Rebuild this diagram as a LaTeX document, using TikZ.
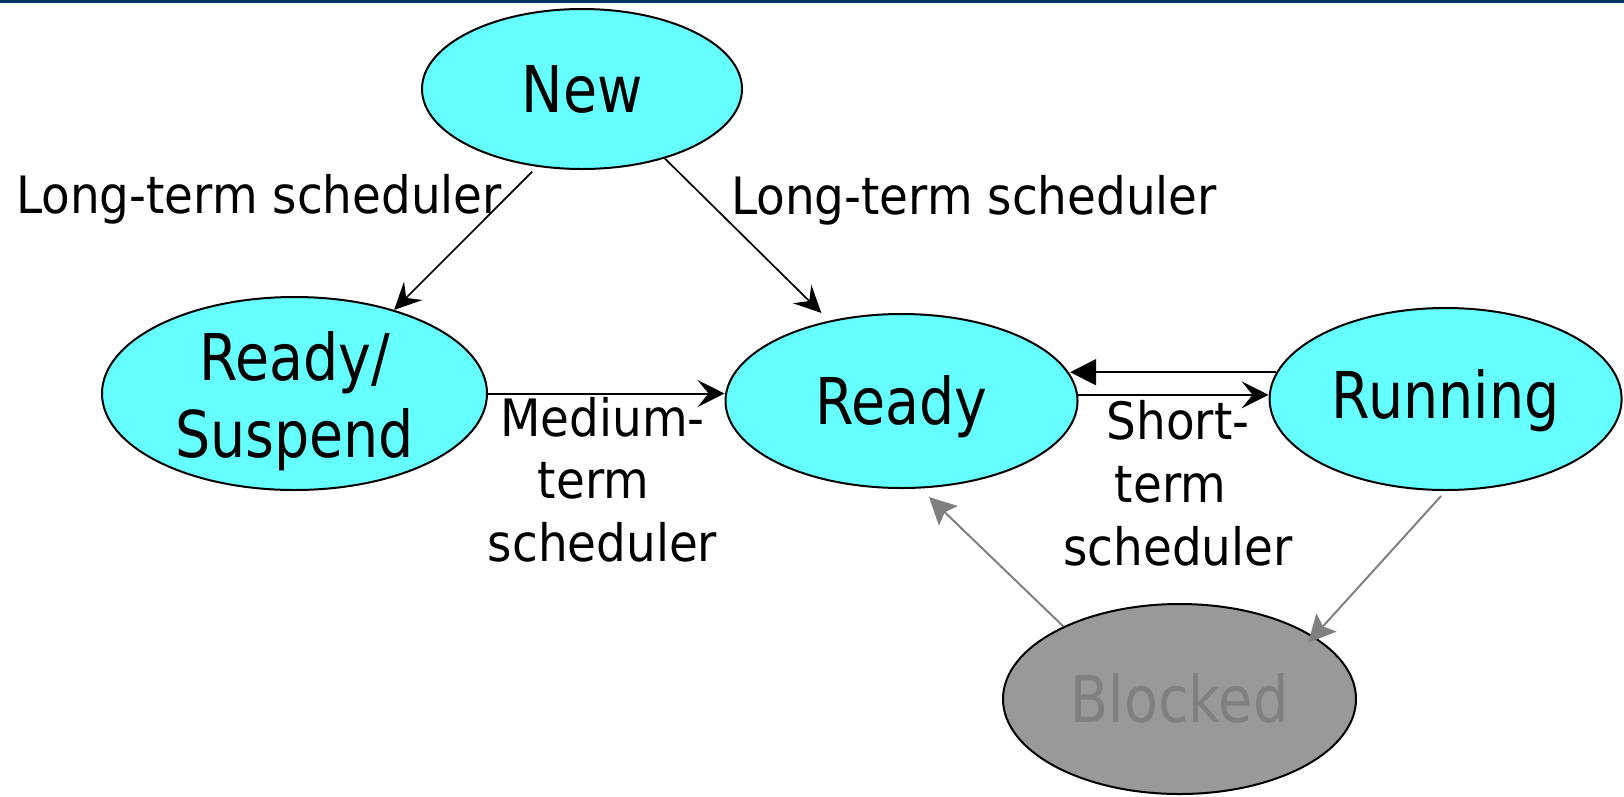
\documentclass[tikz,border=0pt]{standalone}
\usepackage{fontspec}
\setmainfont{DejaVu Sans}[FakeStretch=0.91]
\newfontfamily\statefamily{DejaVu Sans}[FakeStretch=0.86]
\usetikzlibrary{arrows.meta,shapes.geometric}
\definecolor{statecyan}{HTML}{66FFFF}
\definecolor{blockgray}{HTML}{999999}
\definecolor{dimgray}{HTML}{808080}
\definecolor{rulenavy}{HTML}{003366}
\newcommand\statesize{\statefamily\fontsize{64.5}{77}\selectfont}
\newcommand\schedsize{\fontsize{51.5}{62.8}\selectfont}
\begin{document}
\begin{tikzpicture}[x=1pt,y=-1pt,
  state/.style={ellipse, draw=black, line width=2pt, fill=statecyan,
    inner sep=0pt, font=\statesize, text height=47pt, text depth=0pt},
  sched/.style={font=\schedsize, inner sep=0pt, align=center},
  flow/.style={line width=2pt, -{Stealth[length=27pt,width=27pt,inset=11pt]}},
  admit/.style={line width=1.7pt, -{Stealth[length=27pt,width=26pt,inset=10pt]}},
  back/.style={line width=2pt, -{Triangle[length=26pt,width=26pt]}},
  io/.style={draw=dimgray, fill=dimgray, line width=2pt,
    -{Stealth[length=27pt,width=27pt,inset=5pt]}}
]
\useasboundingbox (0,0) rectangle (1624,796);
% rule along the top edge
\fill[rulenavy] (0,0) rectangle (1624,2.7);

% process states
\node[state, minimum width=320pt, minimum height=160pt] (new) at (582,89) {New};
\node[state, minimum width=385pt, minimum height=193pt,
  label={[font=\statesize, align=center, yshift=-8.1pt]center:Ready/\\Suspend}]
  (rs) at (294.5,393.5) {};
\node[state, minimum width=352pt, minimum height=174pt] (ready) at (901.5,401) {Ready};
\node[state, minimum width=352pt, minimum height=182pt, text depth=9pt] (run) at (1445.6,399) {Running};
\node[state, fill=blockgray, text=dimgray, minimum width=353pt, minimum height=190pt]
  (blk) at (1179.5,699) {Blocked};

% scheduler captions
\node[sched, anchor=base west] (lts1) at (16,213) {Long-term scheduler};
\node[sched, anchor=base west] (lts2) at (731,214) {Long-term scheduler};
\node[sched] (mts) at (602.5,479.6) {Medium-\\term\kern18pt\\scheduler};
\node[sched] (sts) at (1178,483.1) {Short-\\term\kern15pt\\scheduler};

% transitions
\draw[admit, shorten <=7pt] (new.240.3) -- (rs.40);
\draw[admit, shorten >=11pt] (new.320.6) -- (ready.132.2);
\draw[flow] (rs.east) -- (rs.east -| ready.west);
\draw[back] (run.171.2) -- (run.171.2 -| ready.9.4);
\draw[flow] (ready.2.7) -- (ready.2.7 -| run.west);
\draw[io, shorten >=12.2pt] (blk.148.3) -- (ready.282.8);
\draw[io, shorten <=6.7pt, shorten >=-8.5pt] (run.270.6) -- (blk.25.1);
\end{tikzpicture}
\end{document}
